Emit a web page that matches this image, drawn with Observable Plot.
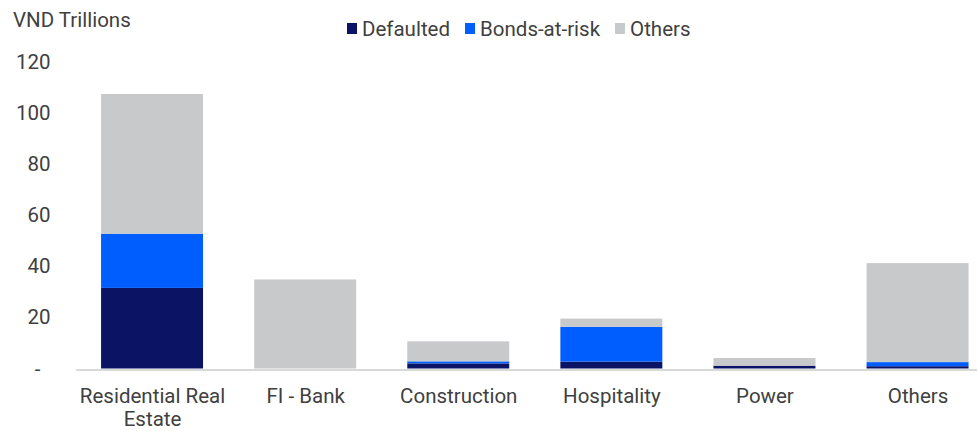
<!DOCTYPE html>
<html>
<head>
<meta charset="utf-8">
<script src="https://cdn.jsdelivr.net/npm/d3@7"></script>
<script src="https://cdn.jsdelivr.net/npm/@observablehq/plot@0.6"></script>
<style>
  html, body { margin: 0; padding: 0; background: #fff; }
  #wrap { position: relative; width: 977px; height: 431px; font-family: Roboto, "Noto Sans", sans-serif; color: #404040; }
  #title { position: absolute; left: 13px; top: 10.4px; font-size: 20.5px; line-height: 1; white-space: nowrap; }
  #legend { position: absolute; left: 347px; top: 18.5px; display: flex; align-items: center; font-size: 20.5px; line-height: 1; white-space: nowrap; }
  .item { display: flex; align-items: center; margin-right: 15px; }
  .sw { width: 10px; height: 11px; margin-right: 5px; }
  #chart { position: absolute; left: 0; top: 0; }
</style>
</head>
<body>
<div id="wrap">
  <div id="chart"></div>
  <div id="title">VND Trillions</div>
  <div id="legend"></div>
</div>
<script>
const categories = ["Residential Real Estate", "FI - Bank", "Construction", "Hospitality", "Power", "Others"];
const tickLabels = ["Residential Real\nEstate", "FI - Bank", "Construction", "Hospitality", "Power", "Others"];
const series = ["Defaulted", "Bonds-at-risk", "Others"];
const colors = ["#0B1464", "#005EFF", "#C8C9CB"];
const defaulted   = [31.5, 0,    2.0, 2.7, 1.1, 0.9];
const bondsAtRisk = [21.2, 0,    0.8, 13.6, 0,  1.6];
const others      = [54.6, 34.8, 7.8, 3.2, 3.0, 38.7];
const yTicks = [0, 20, 40, 60, 80, 100, 120];

const seriesValues = [defaulted, bondsAtRisk, others];
const table = [];
series.forEach((s, si) => {
  categories.forEach((c, ci) => {
    table.push({category: c, series: s, value: seriesValues[si][ci]});
  });
});
const labelOf = new Map(categories.map((c, i) => [c, tickLabels[i]]));

const chart = Plot.plot({
  width: 977,
  height: 431,
  marginLeft: 76,
  marginRight: 0,
  marginTop: 61.5,
  marginBottom: 62.5,
  style: {fontFamily: "Roboto, 'Noto Sans', sans-serif", fontSize: "20.5px", color: "#404040", background: "transparent"},
  x: {domain: categories, range: [75.5, 994.1], paddingInner: 0.334, paddingOuter: 0.167, align: 0.5, round: false},
  y: {domain: [0, 120]},
  color: {domain: series, range: colors},
  marks: [
    Plot.barY(table, {x: "category", y: "value", fill: "series", z: "series"}),
    Plot.ruleY([0], {stroke: "#d9d9d9", strokeWidth: 2, dy: 1}),
    Plot.axisX({tickSize: 0, tickPadding: 18, tickFormat: d => labelOf.get(d), lineHeight: 1.12, fill: "#404040", label: null}),
    Plot.axisY({ticks: yTicks, tickSize: 0, tickPadding: 26, tickFormat: d => d === 0 ? "-\u00a0\u00a0" : String(d), fill: "#404040", label: null})
  ]
});
document.getElementById("chart").appendChild(chart);

const legend = document.getElementById("legend");
series.forEach((s, i) => {
  const item = document.createElement("div");
  item.className = "item";
  const sw = document.createElement("div");
  sw.className = "sw";
  sw.style.background = colors[i];
  const t = document.createElement("span");
  t.textContent = s;
  item.appendChild(sw);
  item.appendChild(t);
  legend.appendChild(item);
});
</script>
</body>
</html>
